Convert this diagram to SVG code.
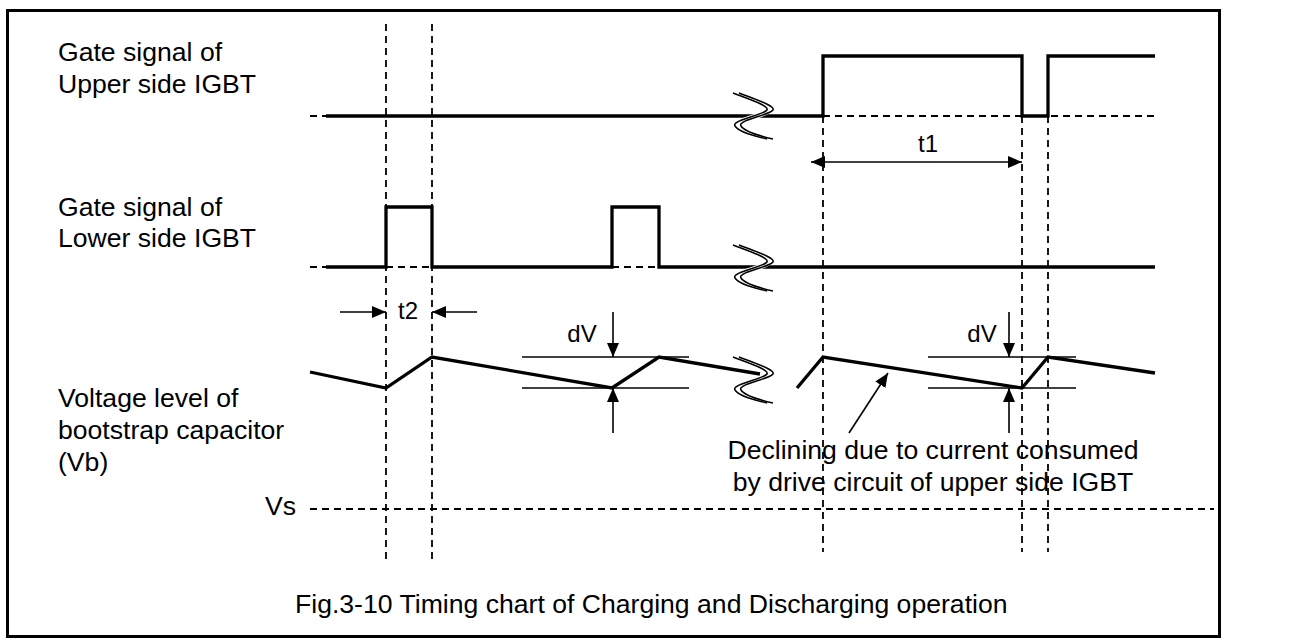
<svg xmlns="http://www.w3.org/2000/svg" width="1295" height="639" viewBox="0 0 1295 639">
<style>
text{font-family:"Liberation Sans",Arial,sans-serif;fill:#000}
.lbl{font-size:26.6px}
.sm{font-size:24px}
.sig{fill:none;stroke:#000;stroke-width:3.3;stroke-linejoin:miter}
.dash{fill:none;stroke:#000;stroke-width:1.8;stroke-dasharray:7 5}
.thin{fill:none;stroke:#000;stroke-width:1.6}
.brk{fill:none;stroke:#000;stroke-width:1.5}
.brkw{fill:none;stroke:#fff;stroke-width:5}
</style>
<defs>
<marker id="ah" viewBox="0 0 14 12" refX="14" refY="6" markerWidth="14" markerHeight="12" markerUnits="userSpaceOnUse" orient="auto-start-reverse">
<path d="M0,0 L14,6 L0,12 z" fill="#000"/>
</marker>
<g id="brkshape">
<path class="brkw" d="M-16,-23 C5,-15 20,-10 18,-6 C15,-1 -18,4 -14,10 C-11,15 5,20 18,23"/>
<path class="brk" d="M-19,-23 C2,-15 17,-10 15,-6 C12,-1 -21,4 -17,10 C-14,15 2,20 15,23"/>
<path class="brk" d="M-13,-23 C8,-15 23,-10 21,-6 C18,-1 -15,4 -11,10 C-8,15 8,20 21,23"/>
</g>
</defs>
<rect x="7.5" y="10.5" width="1212" height="626" fill="#fff" stroke="#000" stroke-width="3"/>

<g id="labels">
<text class="lbl" x="58" y="61">Gate signal of</text>
<text class="lbl" x="58" y="93">Upper side IGBT</text>
<text class="lbl" x="58" y="216">Gate signal of</text>
<text class="lbl" x="58" y="247">Lower side IGBT</text>
<text class="lbl" x="58" y="407">Voltage level of</text>
<text class="lbl" x="58" y="439">bootstrap capacitor</text>
<text class="lbl" x="58" y="471">(Vb)</text>
<text class="lbl" x="265" y="515">Vs</text>
</g>

<g id="guides">
<line class="dash" x1="386" y1="24" x2="386" y2="564"/>
<line class="dash" x1="432" y1="24" x2="432" y2="564"/>
<line class="dash" x1="823" y1="116" x2="823" y2="552"/>
<line class="dash" x1="1022" y1="116" x2="1022" y2="552"/>
<line class="dash" x1="1048" y1="116" x2="1048" y2="552"/>
<line class="dash" x1="310" y1="509" x2="1214" y2="509"/>
<line class="dash" x1="310" y1="116" x2="326" y2="116"/>
<line class="dash" x1="823" y1="116" x2="1155" y2="116"/>
<line class="dash" x1="310" y1="267" x2="326" y2="267"/>
<line class="dash" x1="386" y1="267" x2="432" y2="267"/>
<line class="dash" x1="612" y1="267" x2="659" y2="267"/>
</g>

<g id="upper-signal">
<path class="sig" d="M326,116 H823 V56 H1022 V116 H1048 V56 H1155"/>
<use href="#brkshape" x="752" y="116"/>
</g>

<g id="lower-signal">
<path class="sig" d="M326,267 H386 V207 H432 V267 H612 V207 H659 V267 H1155"/>
<use href="#brkshape" x="752" y="268"/>
</g>

<g id="voltage">
<path class="sig" d="M310,372 L386,388 L432,357 L612,388 L659,357 L760,374"/>
<path class="sig" d="M797,388 L823,357 L1022,388 L1048,357 L1155,373"/>
<use href="#brkshape" x="752" y="380"/>
<line class="thin" x1="522" y1="357" x2="689" y2="357"/>
<line class="thin" x1="522" y1="388" x2="689" y2="388"/>
<line class="thin" x1="928" y1="357" x2="1076" y2="357"/>
<line class="thin" x1="928" y1="388" x2="1076" y2="388"/>
</g>

<g id="connectors">
<line class="thin" x1="811" y1="162" x2="1022" y2="162" marker-start="url(#ah)" marker-end="url(#ah)"/>
<line class="thin" x1="340" y1="312" x2="386" y2="312" marker-end="url(#ah)"/>
<line class="thin" x1="477" y1="312" x2="432" y2="312" marker-end="url(#ah)"/>
<line class="thin" x1="613" y1="312" x2="613" y2="357" marker-end="url(#ah)"/>
<line class="thin" x1="613" y1="433" x2="613" y2="388" marker-end="url(#ah)"/>
<line class="thin" x1="1009" y1="312" x2="1009" y2="357" marker-end="url(#ah)"/>
<line class="thin" x1="1009" y1="433" x2="1009" y2="388" marker-end="url(#ah)"/>
<line class="thin" x1="849" y1="433" x2="888" y2="373" marker-end="url(#ah)"/>
</g>

<g id="annotations">
<text class="sm" x="928" y="152" text-anchor="middle">t1</text>
<text class="sm" x="408" y="319" text-anchor="middle">t2</text>
<text class="sm" x="582" y="342" text-anchor="middle">dV</text>
<text class="sm" x="982" y="342" text-anchor="middle">dV</text>
<text class="lbl" x="933" y="459" text-anchor="middle">Declining due to current consumed</text>
<text class="lbl" x="933" y="491" text-anchor="middle">by drive circuit of upper side IGBT</text>
</g>

<g id="caption">
<text class="lbl" x="295" y="613">Fig.3-10 Timing chart of Charging and Discharging operation</text>
</g>
</svg>
